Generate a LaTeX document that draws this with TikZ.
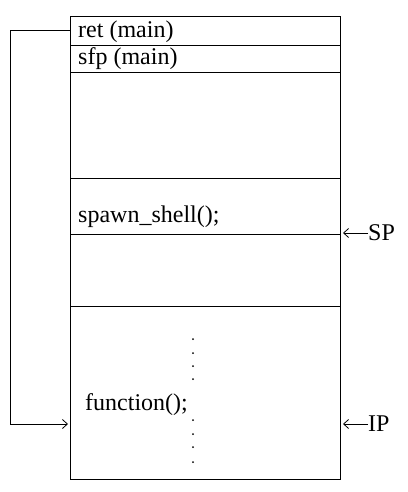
\documentclass[tikz,border=0pt]{standalone}
\usepackage{fontspec}
\setmainfont{Liberation Serif}
\usetikzlibrary{positioning}
\usetikzlibrary{arrows.meta}

\begin{document}
\begin{tikzpicture}
 [ x=1pt, y=-1pt
 , cell/.style={draw, line width=0.8pt, minimum width=270pt, inner sep=0pt, outer sep=0pt}
 , txt/.style={font=\fontsize{24}{28}\selectfont, inner sep=0pt, anchor=base west}
 , ptr/.style={-{Straight Barb[length=5pt, width=9pt]}, line width=0.8pt}
 , dot/.style={circle, fill, inner sep=0pt, minimum size=2pt}
 ]
  \useasboundingbox (0,0) rectangle (407,492);
  % stack cells
  \node[cell, anchor=north west, minimum height=29pt] (ret) at (70,16) {};
  \node[cell, below=0pt of ret, minimum height=27pt] (sfp) {};
  \node[cell, below=0pt of sfp, minimum height=106pt] (locals) {};
  \node[cell, below=0pt of locals, minimum height=56pt] (spawn) {};
  \node[cell, below=0pt of spawn, minimum height=72pt] (free) {};
  \node[cell, below=0pt of free, minimum height=173pt] (code) {};
  % texts
  \node[txt] (tret) at (78,37.5) {ret (main)};
  \node[txt] (tsfp) at (78,65) {sfp (main)};
  \node[txt] (tspawn) at (78,222) {spawn\_shell();};
  \node[txt] (tfunc) at (85,410) {function();};
  \foreach \y [count=\i] in {339,353,366,379,420,434,447,462}
    \node[dot] (d\i) at (193,\y) {};
  % pointers
  \node[txt, anchor=west] (sp) at (368,233) {SP};
  \node[txt, anchor=west] (ip) at (368,424) {IP};
  \draw[ptr, shorten >=3pt] (sp.west) -- (sp.west -| code.east);
  \draw[ptr, shorten >=3pt] (ip.west) -- (ip.west -| code.east);
  \coordinate (entry) at (68,424);
  \draw[ptr] (ret.west) -- ++(-60,0) |- (entry);
\end{tikzpicture}
\end{document}
